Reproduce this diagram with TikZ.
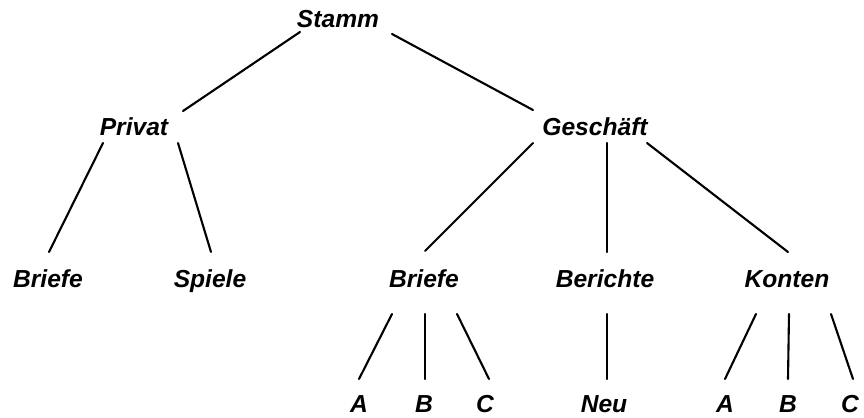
\documentclass[tikz,border=0pt]{standalone}
\usepackage{fontspec}
\setmainfont{Liberation Sans}
\usepackage{tikz}

\begin{document}
\begin{tikzpicture}[
 x=0.03cm,y=-0.03cm,
 lbl/.style={anchor=base,inner sep=0pt,font=\fontsize{21}{25}\selectfont\bfseries\itshape},
 edge/.style={line width=1.8pt,line cap=round}
]
\useasboundingbox (0,0) rectangle (864,417);
% levels
\node[lbl] (stamm) at (338,27) {Stamm};
\node[lbl] (privat) at (134,135) {Privat};
\node[lbl] (gesch) at (595,135) {Geschäft};
\node[lbl] (pbriefe) at (48,287) {Briefe};
\node[lbl] (spiele) at (210,287) {Spiele};
\node[lbl] (gbriefe) at (424,287) {Briefe};
\node[lbl] (berichte) at (605,287) {Berichte};
\node[lbl] (konten) at (787,287) {Konten};
\node[lbl] (ba) at (359,412) {A};
\node[lbl] (bb) at (424,412) {B};
\node[lbl] (bc) at (485,412) {C};
\node[lbl] (neu) at (604,412) {Neu};
\node[lbl] (ka) at (725,412) {A};
\node[lbl] (kb) at (788,412) {B};
\node[lbl] (kc) at (850,412) {C};

\draw[edge] ([shift={(-38,5)}]stamm.base) -- ([shift={(49,-24)}]privat.base);
\draw[edge] ([shift={(54,7)}]stamm.base) -- ([shift={(-62,-25)}]gesch.base);
\draw[edge] ([shift={(-31,8)}]privat.base) -- ([shift={(1,-35)}]pbriefe.base);
\draw[edge] ([shift={(44,8)}]privat.base) -- ([shift={(1,-35)}]spiele.base);
\draw[edge] ([shift={(-62,8)}]gesch.base) -- ([shift={(1,-36)}]gbriefe.base);
\draw[edge] ([shift={(12,8)}]gesch.base) -- ([shift={(2,-35)}]berichte.base);
\draw[edge] ([shift={(52,8)}]gesch.base) -- ([shift={(1,-35)}]konten.base);
\draw[edge] ([shift={(-32,27)}]gbriefe.base) -- ([shift={(0,-33)}]ba.base);
\draw[edge] ([shift={(1,27)}]gbriefe.base) -- ([shift={(1,-33)}]bb.base);
\draw[edge] ([shift={(33,27)}]gbriefe.base) -- ([shift={(4,-33)}]bc.base);
\draw[edge] ([shift={(2,27)}]berichte.base) -- ([shift={(3,-33)}]neu.base);
\draw[edge] ([shift={(-31,27)}]konten.base) -- ([shift={(0,-33)}]ka.base);
\draw[edge] ([shift={(2,27)}]konten.base) -- ([shift={(0,-33)}]kb.base);
\draw[edge] ([shift={(44,27)}]konten.base) -- ([shift={(3,-33)}]kc.base);
\end{tikzpicture}
\end{document}
